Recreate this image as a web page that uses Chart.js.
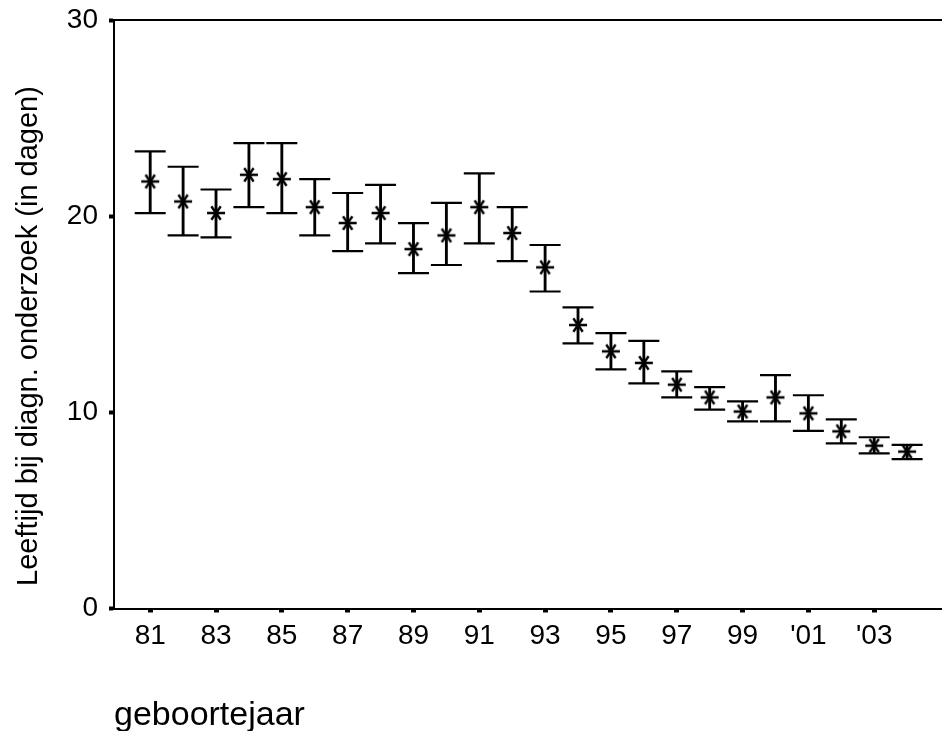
<!DOCTYPE html>
<html>
<head>
<meta charset="utf-8">
<script src="https://cdn.jsdelivr.net/npm/chart.js@4/dist/chart.umd.min.js"></script>
<style>
  html, body { margin: 0; padding: 0; background: #fff; overflow: hidden; }
  canvas { display: block; }
</style>
</head>
<body>
<canvas id="c" width="942" height="731" style="width:942px;height:731px"></canvas>
<script>
// ---- data ----
const years = [81, 82, 83, 84, 85, 86, 87, 88, 89, 90, 91, 92, 93, 94, 95, 96, 97, 98, 99, 100, 101, 102, 103, 104];
const means = [21.77, 20.75, 20.16, 22.11, 21.89, 20.46, 19.65, 20.16, 18.32, 19.02, 20.46, 19.14, 17.39, 14.45, 13.11, 12.52, 11.41, 10.76, 10.04, 10.76, 9.95, 9.03, 8.30, 8.00];
const upper = [23.30, 22.52, 21.36, 23.72, 23.72, 21.89, 21.18, 21.60, 19.65, 20.68, 22.18, 20.46, 18.53, 15.35, 14.04, 13.64, 12.09, 11.29, 10.56, 11.90, 10.87, 9.64, 8.73, 8.34];
const lower = [20.16, 19.02, 18.92, 20.46, 20.16, 19.02, 18.22, 18.61, 17.10, 17.51, 18.61, 17.71, 16.16, 13.52, 12.19, 11.48, 10.76, 10.14, 9.54, 9.54, 9.05, 8.42, 7.91, 7.61];
const tickYears = [81, 83, 85, 87, 89, 91, 93, 95, 97, 99, 101, 103];
const tickLabels = ['81', '83', '85', '87', '89', '91', '93', '95', '97', '99', "'01", "'03"];
const yTicks = [0, 10, 20, 30];
const xTitle = 'geboortejaar';
const yTitle = 'Leeftijd bij diagn. onderzoek (in dagen)';

const FONT = '"Liberation Sans", Arial, Helvetica, sans-serif';

// asterisk marker image
function makeMarker() {
  const c = document.createElement('canvas');
  c.width = 22; c.height = 18;
  const g = c.getContext('2d');
  g.strokeStyle = '#000';
  g.lineWidth = 2.4;
  g.beginPath();
  g.moveTo(2, 9); g.lineTo(20, 9);
  g.moveTo(6.3, 2.3); g.lineTo(15.7, 15.7);
  g.moveTo(15.7, 2.3); g.lineTo(6.3, 15.7);
  g.stroke();
  return c;
}
const marker = makeMarker();

const yTitlePlugin = {
  id: 'yTitlePlugin',
  afterDraw(chart) {
    const ctx = chart.ctx;
    ctx.save();
    ctx.translate(36.5, 336);
    ctx.rotate(-Math.PI / 2);
    ctx.font = '29px ' + FONT;
    ctx.fillStyle = '#000';
    ctx.textAlign = 'center';
    ctx.textBaseline = 'alphabetic';
    ctx.fillText(yTitle, 0, 0);
    ctx.restore();
  }
};

new Chart(document.getElementById('c'), {
  type: 'bar',
  data: {
    datasets: [
      {
        type: 'bar',
        data: years.map((x, i) => ({ x: x, y: [lower[i], upper[i]] })),
        backgroundColor: '#000',
        borderWidth: 0,
        barThickness: 2.2,
        order: 3
      },
      {
        type: 'line',
        data: years.map((x, i) => ({ x: x, y: upper[i] })),
        showLine: false,
        pointStyle: 'line',
        pointRadius: 15.5,
        pointBorderWidth: 2.2,
        borderColor: '#000',
        backgroundColor: '#000',
        order: 2
      },
      {
        type: 'line',
        data: years.map((x, i) => ({ x: x, y: lower[i] })),
        showLine: false,
        pointStyle: 'line',
        pointRadius: 15.5,
        pointBorderWidth: 2.2,
        borderColor: '#000',
        backgroundColor: '#000',
        order: 2
      },
      {
        type: 'line',
        data: years.map((x, i) => ({ x: x, y: means[i] })),
        showLine: false,
        pointStyle: marker,
        pointRadius: 9,
        borderColor: '#000',
        backgroundColor: '#000',
        order: 1
      }
    ]
  },
  options: {
    responsive: false,
    maintainAspectRatio: false,
    animation: false,
    events: [],
    layout: { autoPadding: false, padding: { top: 20, right: 0, bottom: 0, left: 0 } },
    plugins: { legend: { display: false }, tooltip: { enabled: false }, title: { display: false } },
    scales: {
      x: {
        type: 'linear',
        position: 'bottom',
        min: 79.9,
        max: 105.06,
        offset: false,
        afterFit(scale) { scale.height = 122.5; scale.paddingLeft = 0; scale.paddingRight = 0; },
        afterBuildTicks(scale) { scale.ticks = tickYears.map(v => ({ value: v })); },
        ticks: {
          autoSkip: false,
          maxRotation: 0,
          padding: 7,
          color: '#000',
          font: { family: FONT, size: 28 },
          callback: (v, i) => tickLabels[i]
        },
        grid: {
          display: true,
          offset: false,
          drawOnChartArea: false,
          drawTicks: true,
          tickLength: 4,
          tickWidth: 5,
          tickColor: '#000'
        },
        border: { display: true, color: '#000', width: 2 },
        title: {
          display: true,
          text: xTitle,
          align: 'start',
          color: '#000',
          font: { family: FONT, size: 34, lineHeight: 0.9 },
          padding: { top: 0, bottom: 0 }
        }
      },
      xTop: {
        type: 'linear',
        position: 'top',
        min: 0, max: 1,
        afterFit(scale) { scale.height = 0; scale.paddingLeft = 0; scale.paddingRight = 0; },
        ticks: { display: false },
        grid: { display: false, drawTicks: false },
        border: { display: true, color: '#000', width: 2 }
      },
      y: {
        type: 'linear',
        position: 'left',
        min: 0,
        max: 30,
        afterFit(scale) { scale.width = 114; scale.paddingTop = 0; scale.paddingBottom = 0; },
        afterBuildTicks(scale) { scale.ticks = yTicks.map(v => ({ value: v })); },
        ticks: {
          padding: 11,
          color: '#000',
          font: { family: FONT, size: 28 }
        },
        grid: {
          display: true,
          drawOnChartArea: false,
          drawTicks: true,
          tickLength: 5,
          tickWidth: 4,
          tickColor: '#000'
        },
        border: { display: true, color: '#000', width: 2 }
      }
    }
  },
  plugins: [yTitlePlugin]
});
</script>
</body>
</html>
